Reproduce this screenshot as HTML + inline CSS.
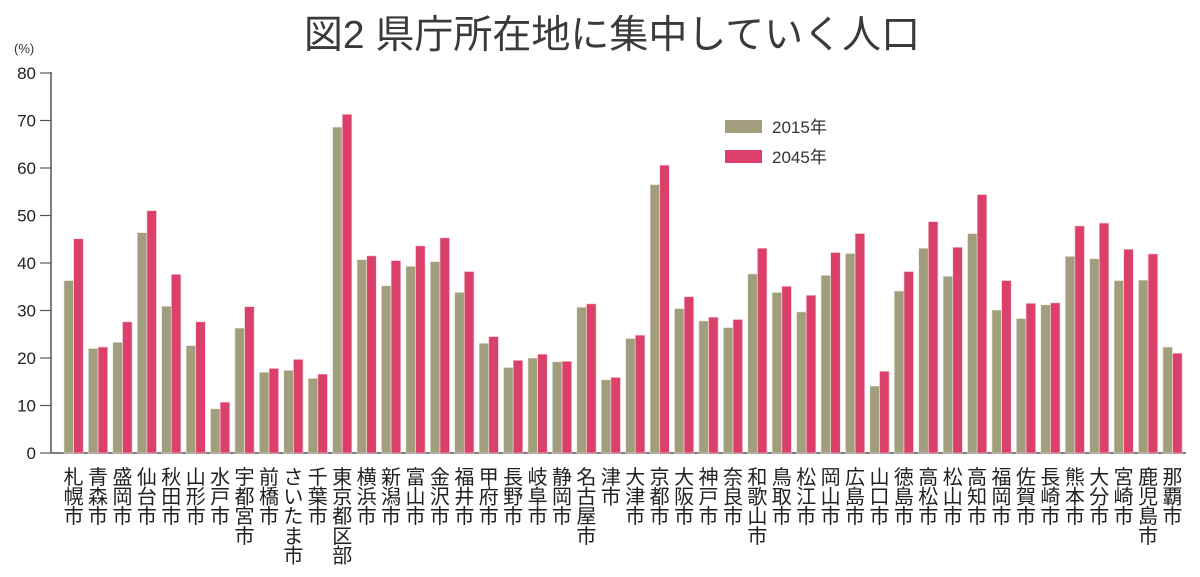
<!DOCTYPE html>
<html><head><meta charset="utf-8"><style>
html,body{margin:0;padding:0;background:#fff;}
svg{display:block;font-family:"Liberation Sans","Noto Sans CJK JP",sans-serif;}
</style></head><body>
<svg width="1200" height="577" viewBox="0 0 1200 577" xmlns="http://www.w3.org/2000/svg">
<text x="612" y="48" text-anchor="middle" font-size="39" fill="#3a3a3a">図2 県庁所在地に集中していく人口</text>
<text x="14" y="53" font-size="13" fill="#333">(%)</text>
<g id="axis" stroke="#555" stroke-width="1.5" fill="none">
<line x1="51" y1="72" x2="51" y2="453"/>
<line x1="51" y1="453" x2="1186" y2="453"/>
</g>
<g id="ticks"></g>
<g id="bars"></g>
<g id="labels" font-size="20" fill="#231f20" text-anchor="middle"></g>
<rect x="725" y="120" width="37" height="13" fill="#a09e7c"/>
<text x="772" y="133" font-size="17" fill="#333">2015年</text>
<rect x="725" y="150" width="37" height="13" fill="#da4069"/>
<text x="772" y="163" font-size="17" fill="#333">2045年</text>
</svg>
<script>
const ns="http://www.w3.org/2000/svg";
const names=["札幌市","青森市","盛岡市","仙台市","秋田市","山形市","水戸市","宇都宮市","前橋市","さいたま市","千葉市","東京都区部","横浜市","新潟市","富山市","金沢市","福井市","甲府市","長野市","岐阜市","静岡市","名古屋市","津市","大津市","京都市","大阪市","神戸市","奈良市","和歌山市","鳥取市","松江市","岡山市","広島市","山口市","徳島市","高松市","松山市","高知市","福岡市","佐賀市","長崎市","熊本市","大分市","宮崎市","鹿児島市","那覇市"];
const a=[36.3,22,23.3,46.4,30.9,22.6,9.3,26.3,17,17.4,15.7,68.6,40.7,35.2,39.3,40.3,33.8,23.1,18,20,19.2,30.7,15.4,24.1,56.5,30.4,27.8,26.4,37.7,33.8,29.7,37.4,42,14.1,34.1,43.1,37.2,46.2,30.1,28.3,31.2,41.4,40.9,36.3,36.4,22.3];
const b=[45.1,22.3,27.6,51,37.6,27.6,10.7,30.8,17.8,19.7,16.6,71.3,41.5,40.5,43.6,45.3,38.2,24.5,19.5,20.8,19.3,31.4,15.9,24.8,60.6,32.9,28.6,28.1,43.1,35.1,33.2,42.2,46.2,17.2,38.2,48.7,43.3,54.4,36.3,31.5,31.6,47.8,48.4,42.9,41.9,21];
const Y=v=>453-v*4.75;
function el(t,at,p,txt){const e=document.createElementNS(ns,t);for(const k in at)e.setAttribute(k,at[k]);if(txt)e.textContent=txt;p.appendChild(e);return e;}
const tk=document.getElementById("ticks");
for(let v=0;v<=80;v+=10){const y=Y(v);el("line",{x1:40,y1:y,x2:51,y2:y,stroke:"#555","stroke-width":1.2},tk);el("text",{x:36,y:y+6,"font-size":17,"text-anchor":"end",fill:"#231f20"},tk,String(v));}
const bars=document.getElementById("bars"),lab=document.getElementById("labels");
for(let i=0;i<46;i++){const x=64+i*24.42;
el("rect",{x:x,y:Y(a[i]),width:9.5,height:a[i]*4.75,fill:"#a09e7c",stroke:"#e8e6d8","stroke-width":0.6},bars);
el("rect",{x:x+9.7,y:Y(b[i]),width:9.5,height:b[i]*4.75,fill:"#da4069",stroke:"#f3c9d3","stroke-width":0.6},bars);
const cx=x+9.6;[...names[i]].forEach((c,j)=>el("text",{x:cx,y:484+j*19.6},lab,c));}
</script>
</body></html>
